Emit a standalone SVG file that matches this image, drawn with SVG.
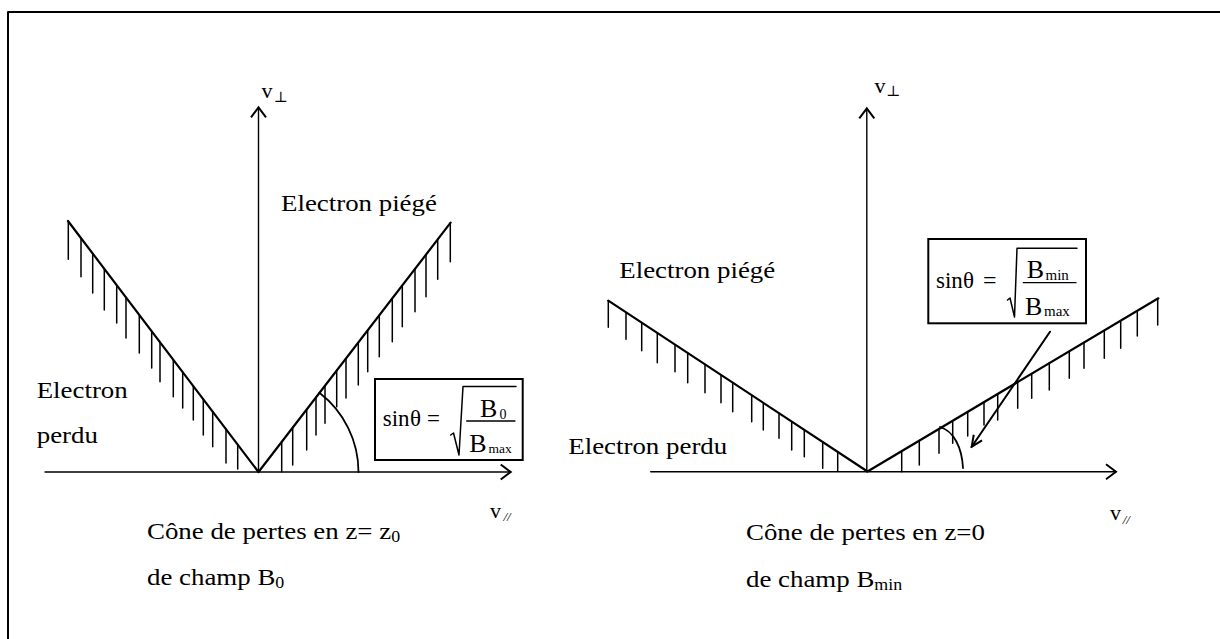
<svg xmlns="http://www.w3.org/2000/svg" width="1220" height="639" viewBox="0 0 1220 639">
<defs>
<style>
.ln{fill:none;stroke:#000;stroke-linecap:round;stroke-linejoin:round}
.cone{stroke-width:2.2}
.ax{stroke-width:1.4}
.hat{stroke-width:1.5}
.arc{stroke-width:1.8}
.box{fill:#fff;stroke:#000;stroke-width:2}
text{font-family:"Liberation Serif","DejaVu Serif",serif;fill:#000}
.lbl{font-size:24px}
.sub{font-size:16px}
.f{font-size:23px}
.fb{font-size:26px}
.sym{font-family:"DejaVu Serif","Liberation Serif",serif;font-size:15px}
</style>
<marker id="ah" viewBox="-12 -10 14 20" refX="0" refY="0" markerWidth="14" markerHeight="20" markerUnits="userSpaceOnUse" orient="auto">
<path d="M-10 -7.5 L0 0 L-10 7.5" fill="none" stroke="#000" stroke-width="2"/>
</marker>
<marker id="ah2" viewBox="-13 -7 15 14" refX="0" refY="0" markerWidth="15" markerHeight="14" markerUnits="userSpaceOnUse" orient="auto">
<path d="M-11 -5 L0 0 L-11 5" fill="none" stroke="#000" stroke-width="2"/>
</marker>
</defs>
<rect width="1220" height="639" fill="#fff"/>
<path id="frame" class="ln" d="M8 639 V12 H1220" stroke-width="2"/>

<g id="left-panel">
<g id="left-axes">
<path class="ln ax" d="M45 472 H510.7" marker-end="url(#ah)"/>
<path class="ln ax" d="M258.5 472 V107.3" marker-end="url(#ah)"/>
</g>
<g id="left-cone">
<path class="ln cone" d="M68 221 L258.5 472 L450.6 222.7"/>
<path class="ln hat" d="M68.3 221.4V259.3 M81 238.1V276.7 M92.7 253.5V293 M104.3 268.8V310 M116.7 285.2V323 M126 297.4V338 M139.3 314.9V353 M151.7 331.3V368 M160 342.2V381.7 M173.3 359.7V396.7 M182.7 372.1V408 M193.3 386.1V420 M203.3 399.3V435 M212.7 411.7V446.7 M226 429.2V463 M237.7 444.6V469"/>
<path class="ln hat" d="M450.3 223.1V261.7 M437.7 239.4V279.3 M426 254.6V296.7 M415 268.9V311.7 M402.3 285.4V326.7 M392.3 298.4V341.7 M379.3 315.2V356.7 M367.7 330.3V371.7 M358.3 342.5V385 M346 358.4V398 M336.7 370.5V406.7 M325 385.7V423.3 M316 397.4V435 M306.7 409.4V450 M292.7 427.6V465 M281.7 441.9V471.7"/>
<path class="ln arc" d="M319.4 392.8 A100 100 0 0 1 358.5 472"/>
</g>
<g id="left-formula">
<rect class="box" x="375" y="379" width="147.7" height="81"/>
<text class="f" x="382.7" y="426">sin</text>
<text class="f" x="410" y="426">θ</text>
<text class="f" x="427" y="426">=</text>
<path class="ln" stroke-width="1.5" d="M450.7 435 L453.5 433 L459 455 L463 386.5 L516 386.5"/>
<path class="ln" stroke-width="1.3" d="M466.7 421 H515"/>
<text class="fb" x="480" y="416.7">B</text>
<text style="font-size:14px" x="499.5" y="419">0</text>
<text class="fb" x="469.3" y="451.7">B</text>
<text style="font-size:13.5px" x="488.5" y="453">max</text>
</g>
<g id="left-labels">
<text x="261.5" y="97.7" style="font-size:22px">v</text><text class="sym" x="273.5" y="101.7">⊥</text>
<text x="490" y="517.5" style="font-size:22px">v</text><text x="503.5" y="521" style="font-size:13px;font-style:italic">//</text>
<text class="lbl" transform="translate(281 210.7) scale(1.12 1)">Electron piégé</text>
<text class="lbl" transform="translate(36.7 398.3) scale(1.12 1)">Electron</text>
<text class="lbl" transform="translate(36.7 443.3) scale(1.12 1)">perdu</text>
<text class="lbl" transform="translate(147 538.5) scale(1.12 1)">Cône de pertes en z= z<tspan class="sub" dy="3">0</tspan></text>
<text class="lbl" transform="translate(147 585) scale(1.12 1)">de champ B<tspan class="sub" dy="3">0</tspan></text>
</g>
</g>

<g id="right-panel">
<g id="right-axes">
<path class="ln ax" d="M650.7 471.7 H1116" marker-end="url(#ah)"/>
<path class="ln ax" d="M866.8 471.7 V108.3" marker-end="url(#ah)"/>
</g>
<g id="right-cone">
<path class="ln cone" d="M608.3 300.7 L867.5 471.5 L1158.3 298.3"/>
<path class="ln hat" d="M608.3 300.7V327.3 M626 312.4V339.3 M641.7 322.7V350.7 M657.3 333V362.7 M675 344.7V371.7 M687.7 353V382.7 M705 364.4V392.7 M721 375V402.7 M732.7 382.7V411.7 M751.7 395.2V421.7 M763.3 402.8V430 M779 413.2V438.3 M791.7 421.6V450 M804.3 429.9V456.7 M822.7 442V468.3 M837.7 451.9V470.7"/>
<path class="ln hat" d="M1157.7 298.7V325 M1137.3 310.8V336 M1120.7 320.7V348.3 M1104.3 330.5V358.3 M1084 342.6V368.3 M1069.3 351.3V378.3 M1049.3 363.2V390 M1031.7 373.7V398.3 M1017.7 382V408.3 M997.7 394V420 M984 402.1V425 M967.7 411.8V436 M952.7 420.8V443.3 M939 428.9V453.3 M919.3 440.6V465 M901.7 451.1V471.7"/>
<path class="ln arc" d="M940 427 C954 431 962 448 963 468"/>
</g>
<g id="right-formula">
<rect class="box" x="928.3" y="239" width="157.7" height="84.3"/>
<text class="f" x="936" y="288.3">sin</text>
<text class="f" x="963" y="288.3">θ</text>
<text class="f" style="font-size:24px" x="983" y="288.3">=</text>
<path class="ln" stroke-width="1.5" d="M1007.5 300 L1010 298 L1014.5 317 L1017 248.3 L1077 248.3"/>
<path class="ln" stroke-width="1.3" d="M1023.3 282.7 H1076"/>
<text class="fb" x="1026.7" y="278.3">B</text>
<text style="font-size:15px" x="1045.5" y="280">min</text>
<text class="fb" x="1025" y="315">B</text>
<text style="font-size:15px" x="1044" y="316">max</text>
</g>
<g id="right-connectors">
<path class="ln" stroke-width="2" d="M1050 331.7 L971.7 446.7" marker-end="url(#ah2)"/>
</g>
<g id="right-labels">
<text x="874.6" y="92.7" style="font-size:22px">v</text><text class="sym" x="886" y="95.7">⊥</text>
<text x="1110" y="520" style="font-size:22px">v</text><text x="1122.7" y="524" style="font-size:13px;font-style:italic">//</text>
<text class="lbl" transform="translate(619.3 278.3) scale(1.12 1)">Electron piégé</text>
<text class="lbl" transform="translate(568.3 454) scale(1.12 1)">Electron perdu</text>
<text class="lbl" transform="translate(746 540) scale(1.12 1)">Cône de pertes en z=0</text>
<text class="lbl" transform="translate(746 586.7) scale(1.12 1)">de champ B<tspan class="sub" dy="3">min</tspan></text>
</g>
</g>
</svg>
